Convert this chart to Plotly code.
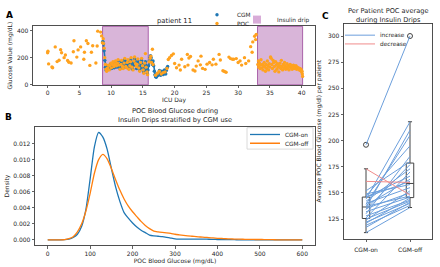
import plotly.graph_objects as go

W, H = 440, 267


def fx(p):
    return p / W


def fy(p):
    return 1 - p / H


# ---------------- Panel A data (patient 11) ----------------
poc_day = [
    0.0, 0.05, 0.16, 0.68, 0.79, 1.2, 1.5, 1.8, 2.05, 2.2, 2.6, 2.8, 3.15, 3.35, 3.7,
    4.05, 4.15, 4.6, 4.8, 5.2, 5.7, 5.8, 6.1, 6.35, 6.65, 6.9, 7.1, 7.6, 7.8, 7.9,
    8.35, 8.5, 8.62,
    8.75, 8.8, 8.9, 9.0, 9.1, 9.2, 9.3, 9.45, 9.55, 9.7, 9.8, 9.95, 10.05, 10.2, 10.3,
    10.45, 10.6, 10.7, 10.85, 11.0, 11.1, 11.25, 11.4, 11.55, 11.65, 11.8, 11.9, 12.05,
    12.15, 12.3, 12.45, 12.55, 12.65, 12.8, 12.95, 13.05, 13.15, 13.3, 13.45, 13.6,
    13.7, 13.85, 13.95, 14.1, 14.2, 14.35, 14.5, 14.65, 14.8, 14.95, 15.05, 15.15,
    15.3, 15.4, 15.5, 15.65, 15.75,
    16.0, 16.15, 16.25, 16.35, 16.5, 16.6, 17.0, 17.3, 17.6, 17.9, 18.2, 18.5, 18.8,
    19.0, 19.2, 19.5, 19.8, 20.0, 20.3, 20.7, 20.9, 21.1, 21.6, 22.0, 22.1, 22.25, 22.5,
    22.9, 23.2, 23.4, 23.7, 24.05, 24.15, 24.4, 24.8, 25.1, 25.5, 25.9, 26.1, 26.5, 27.0,
    27.2, 27.6, 27.85, 28.1, 28.55, 28.8, 29.1, 29.3, 29.7, 30.0, 30.3, 30.55, 31.0,
    31.2, 31.65, 31.97, 32.2, 32.3, 32.6, 32.75, 32.85,
    33.1, 33.2, 33.25, 33.35, 33.45, 33.5, 33.6, 33.7, 33.8, 33.9, 34.0, 34.1, 34.2,
    34.3, 34.4, 34.5, 34.6, 34.7, 34.8, 34.9, 35.0, 35.1, 35.2, 35.3, 35.4, 35.5, 35.6,
    35.7, 35.8, 35.9, 36.0, 36.1, 36.2, 36.3, 36.4, 36.5, 36.6, 36.7, 36.8, 36.9, 37.0,
    37.1, 37.2, 37.3, 37.4, 37.5, 37.6, 37.7, 37.8, 37.9, 38.0, 38.1, 38.2, 38.3, 38.4,
    38.5, 38.6, 38.7, 38.8, 38.9, 39.0, 39.1, 39.2, 39.3, 39.4, 39.5, 39.6, 39.7, 39.8,
    39.9, 40.0, 40.05, 40.1, 40.15,
]
poc_val = [
    236, 247, 154, 131, 126, 279, 171, 181, 259, 236, 200, 219, 179, 166, 161,
    243, 324, 204, 257, 279, 188, 240, 324, 304, 143, 240, 288, 161, 286, 395,
    388, 360, 309,
    340, 305, 270, 200, 150, 115, 100, 125, 145, 110, 140, 160, 125, 150, 170,
    135, 155, 175, 140, 160, 185, 145, 115, 150, 180, 135, 120, 160,
    195, 135, 125, 165, 185, 115, 140, 170, 200, 130, 110, 175,
    205, 155, 135, 150, 190, 125, 100, 165, 195, 140, 110, 85,
    160, 230, 130, 95, 75,
    170, 195, 210, 165, 262, 150, 70, 85, 100, 80, 90, 95, 120,
    186, 200, 216, 228, 157, 126, 145, 109, 188, 133, 224, 145, 197, 209,
    109, 102, 138, 176, 147, 211, 121, 114, 152, 164, 147, 188, 152, 224,
    183, 104, 98, 93, 204, 193, 188, 188, 193, 164, 176, 145, 200,
    157, 176, 281, 240, 316, 357, 333, 371,
    150, 175, 130, 160, 120, 145, 185, 125, 150, 110, 140, 165, 130,
    100, 150, 120, 175, 140, 110, 155, 130, 205, 195, 150, 120, 180, 165,
    135, 100, 170, 145, 115, 155, 130, 95, 140, 160, 120, 180, 135, 110,
    150, 125, 165, 140, 115, 130, 155, 120, 140, 110, 135, 150, 125, 140,
    115, 130, 145, 120, 135, 125, 140, 115, 130, 120, 125, 110, 120, 105,
    115, 95, 100, 80, 62,
]

cgm_day = [
    8.7, 8.8, 8.9, 9.0, 9.1, 9.2, 9.3, 9.4, 9.5, 9.6, 9.7, 9.8, 9.9, 10.0, 10.1, 10.2,
    10.3, 10.4, 10.5, 10.6, 10.7, 10.8, 10.9, 11.0, 11.1, 11.2, 11.3, 11.4, 11.5, 11.6,
    11.7, 11.8, 11.9, 12.0, 12.1, 12.2, 12.3, 12.4, 12.5, 12.6, 12.7, 12.8, 12.9, 13.0,
    13.1, 13.2, 13.3, 13.4, 13.5, 13.6, 13.7, 13.8, 13.9, 14.0, 14.1, 14.2, 14.3, 14.4,
    14.5, 14.6, 14.7, 14.8, 14.9, 15.0, 15.1, 15.2, 15.3, 15.4, 15.5, 15.6, 15.7, 15.8,
    15.9, 16.0, 16.1, 16.2, 16.3, 16.4, 16.5, 16.6, 16.7, 16.8, 16.9, 17.0, 17.1, 17.2,
    17.3, 17.4, 17.5, 17.6, 17.7, 17.8, 17.9, 18.0, 18.1, 18.2, 18.3, 18.4, 18.5, 18.6,
    18.7, 18.8, 18.9,
]
cgm_val = [
    320, 300, 250, 180, 130, 110, 105, 120, 140, 125, 115, 135, 150, 130, 120, 145,
    160, 140, 125, 150, 165, 145, 130, 155, 175, 150, 135, 120, 145, 170,
    160, 140, 125, 150, 180, 165, 140, 130, 155, 175, 150, 120, 135, 160,
    185, 160, 135, 115, 140, 170, 190, 165, 140, 120, 145, 175, 160, 130,
    105, 125, 160, 180, 150, 120, 95, 115, 150, 170, 140, 105, 85, 110,
    140, 175, 200, 215, 200, 170, 150, 175, 140, 100, 75, 60, 55, 65,
    80, 70, 90, 105, 85, 70, 80, 100, 90, 75, 95, 110, 90, 80,
    105, 125, 135,
]

drip_start = [8.65, 33.05]
drip_end = [15.85, 40.15]

# ---------------- Panel B data (KDE of POC glucose) ----------------
glucose_grid = [
    0, 10, 20, 30, 40, 50, 60, 70, 80, 90, 100, 110, 120, 130, 140, 150, 160, 170, 180,
    190, 200, 210, 220, 230, 240, 250, 260, 270, 280, 290, 300, 310, 320, 330, 340, 350,
    360, 370, 380, 390, 400, 410, 420, 430, 440, 450, 460, 470, 480, 490, 500, 510, 520,
    530, 540, 550, 560, 570, 580, 590, 600,
]
density_cgm_on = [
    0, 0, 0, 0, 0.00002, 0.0001, 0.0003, 0.0007, 0.0017, 0.0038, 0.0076, 0.0116, 0.0134,
    0.0128, 0.0113, 0.0089, 0.0066, 0.0048, 0.0034, 0.0027, 0.0021, 0.0016, 0.0012,
    0.0009, 0.0006, 0.0005, 0.00045, 0.0004, 0.00032, 0.00022, 0.00013, 0.0001, 0.0001,
    0.0001, 0.0001, 0.0001, 0.0001, 0.00009, 0.00008, 0.00006, 0.00005, 0.00004, 0.00003,
    0.00002, 0.00002, 0.00001, 0, 0, 0, 0, 0, 0, 0, 0, 0, 0, 0, 0, 0, 0, 0,
]
density_cgm_off = [
    0, 0, 0, 0.00001, 0.00004, 0.00015, 0.0004, 0.001, 0.002, 0.0036, 0.0058, 0.0083,
    0.01, 0.01065, 0.0101, 0.0089, 0.0075, 0.0062, 0.0051, 0.0042, 0.0035, 0.0029,
    0.0023, 0.0018, 0.0014, 0.0011, 0.001, 0.00093, 0.00087, 0.0008, 0.0007, 0.00063,
    0.00057, 0.0005, 0.00045, 0.0004, 0.00036, 0.00032, 0.00028, 0.00024, 0.0002,
    0.00017, 0.00014, 0.00012, 0.0001, 0.00009, 0.00008, 0.00007, 0.00006, 0.00005,
    0.00005, 0.00004, 0.00003, 0.00002, 0.00001, 0, 0, 0, 0, 0, 0,
]

# ---------------- Panel C data (per patient averages) ----------------
avg_cgm_on = [196, 173, 161, 112, 117, 119, 121, 122, 124, 125, 126, 128, 130, 132,
              134, 135, 136, 137, 138, 139, 140, 142, 144, 146, 146, 147, 149, 152]
avg_cgm_off = [300, 148, 160, 136, 141, 138, 145, 140, 152, 142, 170, 143, 185, 146,
               177, 150, 210, 147, 163, 205, 155, 173, 218, 161, 166, 195, 158, 180]
group_labels = ["CGM-on", "CGM-off"]

# ---------------- styling ----------------
FONT = "DejaVu Sans"
TXT = "#262626"
AX = "#3c3c3c"
BLUE = "#1f77b4"
ORANGE = "#ff7f0e"
POC_ORANGE = "#ffa21f"
PURPLE_FILL = "rgba(160,70,160,0.40)"
PURPLE_EDGE = "rgba(150,60,150,0.75)"
PURPLE_LEG = "#d8acd8"
INC = "#6c9fdc"
DEC = "#f08c8c"
BOXC = "#444444"

fig = go.Figure()

# Panel A
fig.add_trace(go.Scatter(x=cgm_day, y=cgm_val, mode="lines", line=dict(color=BLUE, width=1.6),
                         showlegend=False, hoverinfo="skip", xaxis="x", yaxis="y"))
fig.add_trace(go.Scatter(x=cgm_day, y=cgm_val, mode="markers", name="CGM",
                         marker=dict(size=3.4, color=BLUE), xaxis="x", yaxis="y", legend="legend"))
fig.add_trace(go.Scatter(x=poc_day, y=poc_val, mode="markers", name="POC",
                         marker=dict(size=3.4, color=POC_ORANGE), xaxis="x", yaxis="y", legend="legend2"))
for s, e in zip(drip_start, drip_end):
    fig.add_shape(type="rect", xref="x", yref="y domain", x0=s, x1=e, y0=0, y1=1,
                  fillcolor=PURPLE_FILL, line=dict(color=PURPLE_EDGE, width=1), layer="below")
# legend proxy for the insulin drip spans
fig.add_trace(go.Scatter(x=[None], y=[None], mode="markers", name="Insulin drip",
                         marker=dict(symbol="square", size=8, color=PURPLE_LEG),
                         xaxis="x", yaxis="y", legend="legend3"))

# Panel B
fig.add_trace(go.Scatter(x=glucose_grid, y=density_cgm_on, mode="lines", name="CGM-on",
                         line=dict(color=BLUE, width=1.3, shape="spline", smoothing=0.6),
                         xaxis="x2", yaxis="y2", legend="legend4"))
fig.add_trace(go.Scatter(x=glucose_grid, y=density_cgm_off, mode="lines", name="CGM-off",
                         line=dict(color=ORANGE, width=1.3, shape="spline", smoothing=0.6),
                         xaxis="x2", yaxis="y2", legend="legend5"))

# Panel C boxes
for pos, vals in enumerate([avg_cgm_on, avg_cgm_off]):
    fig.add_trace(go.Box(y=vals, x0=pos, width=0.17, fillcolor="rgba(0,0,0,0)",
                         line=dict(color=BOXC, width=1), whiskerwidth=0.55,
                         boxpoints="outliers", pointpos=0, jitter=0,
                         marker=dict(symbol="circle-open", size=5, color=BOXC, line=dict(width=1)),
                         showlegend=False, xaxis="x3", yaxis="y3", name=group_labels[pos]))

inc_x, inc_y, dec_x, dec_y = [], [], [], []
for a, b in zip(avg_cgm_on, avg_cgm_off):
    if b > a:
        inc_x += [0, 1, None]
        inc_y += [a, b, None]
    else:
        dec_x += [0, 1, None]
        dec_y += [a, b, None]
fig.add_trace(go.Scatter(x=inc_x, y=inc_y, mode="lines", name="increase",
                         line=dict(color=INC, width=1), xaxis="x3", yaxis="y3", legend="legend6"))
fig.add_trace(go.Scatter(x=dec_x, y=dec_y, mode="lines", name="decrease",
                         line=dict(color=DEC, width=1), xaxis="x3", yaxis="y3", legend="legend7"))

axis_common = dict(showline=True, mirror=True, linecolor=AX, linewidth=0.9, ticks="outside",
                   ticklen=2.5, tickwidth=0.8, tickcolor=AX, showgrid=False, zeroline=False,
                   tickfont=dict(size=6, color=TXT, family=FONT))
title_font = dict(size=6, color=TXT, family=FONT)

fig.update_layout(
    width=W, height=H, margin=dict(l=0, r=0, t=0, b=0),
    paper_bgcolor="white", plot_bgcolor="white", hovermode=False,
    font=dict(family=FONT, size=6, color=TXT),
    xaxis=dict(axis_common, domain=[fx(33), fx(315)], range=[-2.3, 42.1],
               tickvals=[0, 5, 10, 15, 20, 25, 30, 35, 40], anchor="y",
               title=dict(text="ICU Day", font=title_font, standoff=0)),
    yaxis=dict(axis_common, domain=[fy(83), fy(23)], range=[0, 430], tickvals=[0, 200, 400],
               anchor="x", title=dict(text="Glucose Value (mg/dL)", font=title_font, standoff=3)),
    xaxis2=dict(axis_common, domain=[fx(35), fx(315)], range=[-30, 630],
                tickvals=[0, 100, 200, 300, 400, 500, 600], anchor="y2",
                title=dict(text="POC Blood Glucose (mg/dL)", font=title_font, standoff=0)),
    yaxis2=dict(axis_common, domain=[fy(248), fy(126)], range=[-0.0007, 0.0141],
                tickvals=[0, 0.002, 0.004, 0.006, 0.008, 0.010, 0.012], tickformat=".3f",
                anchor="x2", title=dict(text="Density", font=title_font, standoff=3)),
    xaxis3=dict(axis_common, type="linear", domain=[fx(344), fx(432)], range=[-0.5, 1.5],
                tickvals=[0, 1], ticktext=group_labels, anchor="y3", ticklabelstandoff=3),
    yaxis3=dict(axis_common, domain=[fy(241), fy(20)], range=[106.2, 312],
                tickvals=[125, 150, 175, 200, 225, 250, 275, 300], anchor="x3",
                title=dict(text="Average POC Blood Glucose (mg/dl) per patient",
                           font=title_font, standoff=5)),
)

leg = dict(bgcolor="rgba(0,0,0,0)", borderwidth=0, font=dict(size=5.8, color=TXT, family=FONT),
           xanchor="left", yanchor="middle", itemsizing="trace", tracegroupgap=0)
fig.update_layout(
    legend=dict(leg, x=fx(197), y=fy(11)),
    legend2=dict(leg, x=fx(197), y=fy(20)),
    legend3=dict(leg, x=fx(237), y=fy(16)),
    legend4=dict(leg, x=fx(245), y=fy(134)),
    legend5=dict(leg, x=fx(245), y=fy(143)),
    legend6=dict(leg, x=fx(340), y=fy(32)),
    legend7=dict(leg, x=fx(340), y=fy(41)),
)

# light legend frame for panel B
fig.add_shape(type="rect", xref="paper", yref="paper", x0=fx(247), x1=fx(313), y0=fy(149), y1=fy(127),
              line=dict(color="#d0d0d0", width=0.8), fillcolor="rgba(255,255,255,0)", layer="below")

ann = dict(xref="paper", yref="paper", showarrow=False)
fig.add_annotation(ann, text="<b>A</b>", x=fx(4), y=fy(4), xanchor="left", yanchor="top",
                   font=dict(size=9, color="black", family=FONT))
fig.add_annotation(ann, text="<b>B</b>", x=fx(3), y=fy(109), xanchor="left", yanchor="top",
                   font=dict(size=9, color="black", family=FONT))
fig.add_annotation(ann, text="<b>C</b>", x=fx(320), y=fy(5), xanchor="left", yanchor="top",
                   font=dict(size=9, color="black", family=FONT))
fig.add_annotation(ann, text="patient 11", x=fx(174), y=fy(17), xanchor="center", yanchor="middle",
                   font=dict(size=6.8, color=TXT, family=FONT))
fig.add_annotation(ann, text="POC Blood Glucose during<br>Insulin Drips stratified by CGM use",
                   x=fx(175), y=fy(115), xanchor="center", yanchor="middle",
                   font=dict(size=6.6, color=TXT, family=FONT))
fig.add_annotation(ann, text="Per Patient POC average<br>during Insulin Drips",
                   x=fx(388), y=fy(11.5), xanchor="center", yanchor="middle",
                   font=dict(size=6.6, color=TXT, family=FONT))

# the page has a default 8px body margin; remove it so the figure fills the window exactly
fig.write_html("out.html", config={"staticPlot": True, "displayModeBar": False},
               post_script="document.body.style.margin='0px';document.body.style.overflow='hidden';")
